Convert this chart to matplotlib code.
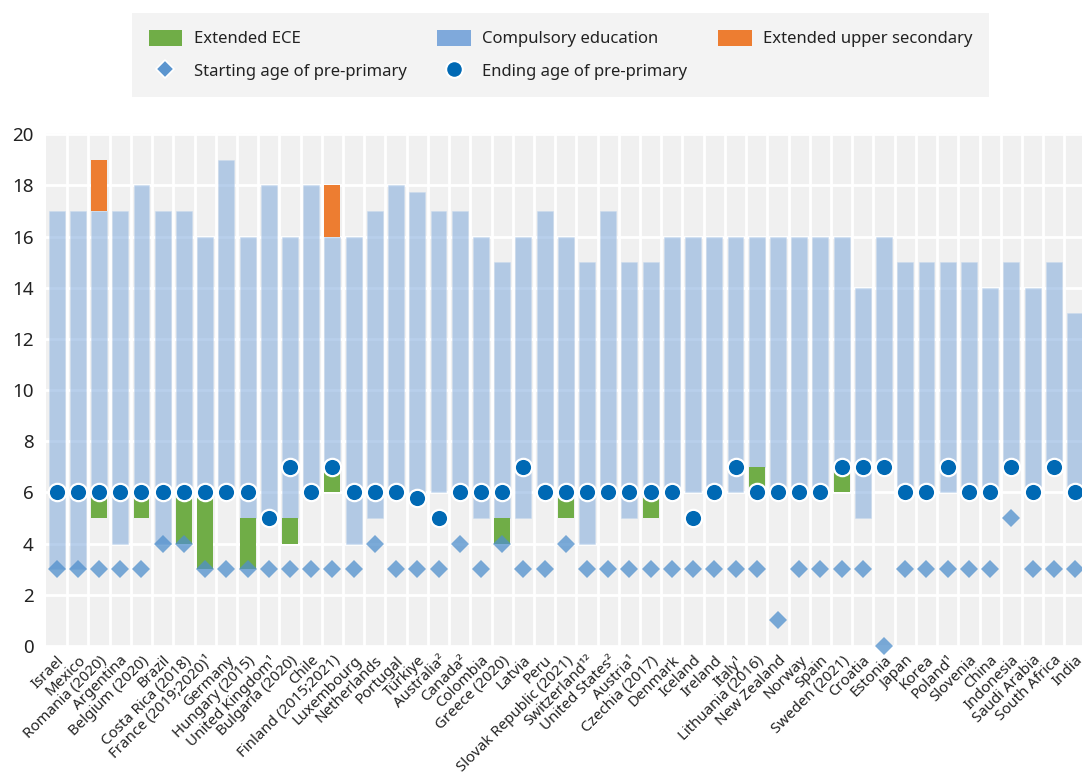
import numpy as np
import matplotlib
matplotlib.use("Agg")
import matplotlib.pyplot as plt
from matplotlib.patches import Patch
from matplotlib.lines import Line2D

plt.rcParams['font.family'] = ['Noto Sans', 'DejaVu Sans']

countries = ["Israel", "Mexico", "Romania (2020)", "Argentina", "Belgium (2020)", "Brazil",
             "Costa Rica (2018)", "France (2019;2020)¹", "Germany", "Hungary (2015)",
             "United Kingdom¹", "Bulgaria (2020)", "Chile", "Finland (2015;2021)", "Luxembourg",
             "Netherlands", "Portugal", "Türkiye", "Australia²", "Canada²", "Colombia",
             "Greece (2020)", "Latvia", "Peru", "Slovak Republic (2021)", "Switzerland¹²",
             "United States²", "Austria¹", "Czechia (2017)", "Denmark", "Iceland", "Ireland",
             "Italy¹", "Lithuania (2016)", "New Zealand", "Norway", "Spain", "Sweden (2021)",
             "Croatia", "Estonia", "Japan", "Korea", "Poland¹", "Slovenia", "China",
             "Indonesia", "Saudi Arabia", "South Africa", "India"]

comp_start = [3, 3, 6, 4, 6, 4, 6, 6, 6, 5, 5, 5, 6, 7, 4, 5, 6, 5.8, 6, 6, 5, 5, 5, 6, 6,
              4, 6, 5, 6, 6, 6, 6, 6, 7, 6, 6, 6, 7, 5, 7, 6, 6, 6, 6, 6, 7, 6, 7, 6]
comp_end = [17, 17, 17, 17, 18, 17, 17, 16, 19, 16, 18, 16, 18, 16, 16, 17, 18, 17.75, 17, 17,
            16, 15, 16, 17, 16, 15, 17, 15, 15, 16, 16, 16, 16, 16, 16, 16, 16, 16, 14, 16, 15,
            15, 15, 15, 14, 15, 14, 15, 13]
nan = np.nan
ece_start = [nan, nan, 5, nan, 5, nan, 4, 3, nan, 3, nan, 4, nan, 6, nan, nan, nan, nan, nan, nan,
             nan, 4, nan, nan, 5, nan, nan, nan, 5, nan, nan, nan, nan, 6, nan, nan, nan, 6, nan,
             nan, nan, nan, nan, nan, nan, nan, nan, nan, nan]
ece_end = [nan, nan, 6, nan, 6, nan, 6, 6, nan, 5, nan, 5, nan, 7, nan, nan, nan, nan, nan, nan,
           nan, 5, nan, nan, 6, nan, nan, nan, 6, nan, nan, nan, nan, 7, nan, nan, nan, 7, nan,
           nan, nan, nan, nan, nan, nan, nan, nan, nan, nan]
upper_start = [nan, nan, 17] + [nan] * 10 + [16] + [nan] * 35
upper_end = [nan, nan, 19] + [nan] * 10 + [18] + [nan] * 35
start_age = [3, 3, 3, 3, 3, 4, 4, 3, 3, 3, 3, 3, 3, 3, 3, 4, 3, 3, 3, 4, 3, 4, 3, 3, 4, 3, 3,
             3, 3, 3, 3, 3, 3, 3, 1, 3, 3, 3, 3, 0, 3, 3, 3, 3, 3, 5, 3, 3, 3]
end_age = [6, 6, 6, 6, 6, 6, 6, 6, 6, 6, 5, 7, 6, 7, 6, 6, 6, 5.8, 5, 6, 6, 6, 7, 6, 6, 6, 6,
           6, 6, 6, 5, 6, 7, 6, 6, 6, 6, 7, 7, 7, 6, 6, 7, 6, 6, 7, 6, 7, 6]

legend_labels = ["Extended ECE", "Compulsory education", "Extended upper secondary",
                 "Starting age of pre-primary", "Ending age of pre-primary"]

C_GREEN = '#70ad47'
C_BLUE = '#7fa9db'
C_ORANGE = '#ed7d31'
C_DIAM = '#4f8fcc'
C_DOT = '#0069b4'

fig = plt.figure(figsize=(10.82, 7.76), dpi=100)
ax = fig.add_axes([46 / 1082, 130 / 776, 1 - 46 / 1082, (646 - 133) / 776])

x = np.arange(len(countries))
cs = np.array(comp_start, float)
ce = np.array(comp_end, float)
es = np.array(ece_start, float)
ee = np.array(ece_end, float)
us = np.array(upper_start, float)
ue = np.array(upper_end, float)

ax.set_facecolor('#f0f0f0')
W = 0.75
ax.bar(x, ce - cs, bottom=cs, width=W, color=C_BLUE, alpha=0.55, zorder=2,
       edgecolor='#c9daee', linewidth=0.6)
m = ~np.isnan(es)
ax.bar(x[m], (ee - es)[m], bottom=es[m], width=W, color=C_GREEN, zorder=2)
m = ~np.isnan(us)
ax.bar(x[m], (ue - us)[m], bottom=us[m], width=W, color=C_ORANGE, zorder=2)

ax.plot(x, start_age, ls='none', marker='D', ms=8.8, color=C_DIAM, alpha=0.75,
        mew=0, zorder=3, clip_on=False)
ax.plot(x, end_age, ls='none', marker='o', ms=12.5, color=C_DOT, mec='white', mew=1.6,
        zorder=4, clip_on=False)

ax.set_xlim(-0.5, 48.33)
ax.set_ylim(0, 20.05)
ax.set_yticks(range(0, 21, 2))
ax.set_xticks(x)
ax.set_xticks(x[:-1] + 0.5, minor=True)
ax.set_xticklabels(countries, rotation=45, ha='right', va='top', rotation_mode='anchor',
                   fontsize=10.8, color='#222222')
ax.tick_params(axis='x', which='both', length=0, pad=5)
ax.tick_params(axis='y', length=0, labelsize=13.5, labelcolor='#222222', pad=9)
ax.grid(axis='y', which='major', color='white', lw=2)
ax.grid(axis='x', which='minor', color='white', lw=2)
ax.set_axisbelow(True)
for s in ax.spines.values():
    s.set_visible(False)

handles = [Patch(facecolor=C_GREEN),
           Line2D([], [], ls='none', marker='D', ms=9, color='#5b95cf', mec='white', mew=1.2),
           Patch(facecolor=C_BLUE),
           Line2D([], [], ls='none', marker='o', ms=12, color=C_DOT, mec='white', mew=1.5),
           Patch(facecolor=C_ORANGE)]
labels = [legend_labels[0], legend_labels[3], legend_labels[1], legend_labels[4], legend_labels[2]]
leg = fig.legend(handles, labels, ncol=3, loc='upper left',
                 bbox_to_anchor=(132 / 1082, 1 - 13 / 776),
                 frameon=True, fancybox=False, fontsize=12,
                 handlelength=2.0, handleheight=1.1, handletextpad=0.7,
                 labelspacing=0.9, borderpad=1.0, borderaxespad=0, columnspacing=1.85)
leg.get_frame().set_facecolor('#f0f0f0')
leg.get_frame().set_edgecolor('none')
for t in leg.get_texts():
    t.set_color('#222222')

fig.savefig('out.png', dpi=100)
